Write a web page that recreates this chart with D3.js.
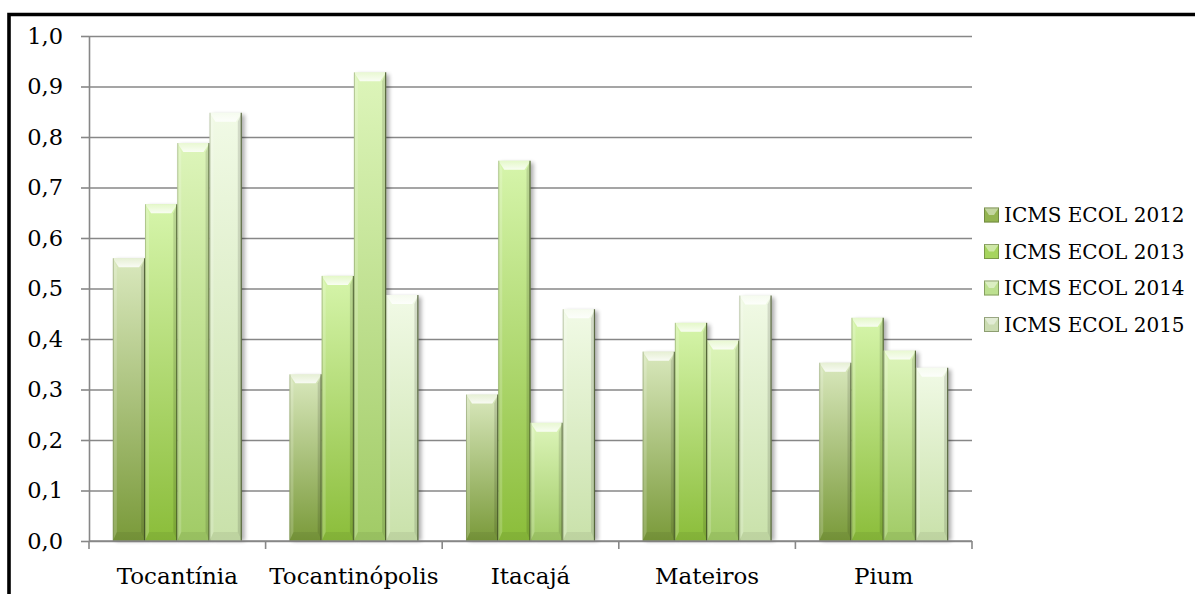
<!DOCTYPE html>
<html>
<head>
<meta charset="utf-8">
<script src="https://cdn.jsdelivr.net/npm/d3@7"></script>
<style>
  html, body { margin: 0; padding: 0; background: #fff; }
  svg { display: block; }
  text { font-family: "DejaVu Serif", serif; fill: #000; }
</style>
</head>
<body>
<svg id="chart" width="1195" height="594"></svg>
<script>
// Municipalities on the x axis
const categories = ["Tocantínia", "Tocantinópolis", "Itacajá", "Mateiros", "Pium"];
// One series per year
const seriesNames = ["ICMS ECOL 2012", "ICMS ECOL 2013", "ICMS ECOL 2014", "ICMS ECOL 2015"];
const values2012 = [0.56, 0.33, 0.29, 0.375, 0.353];
const values2013 = [0.667, 0.525, 0.753, 0.432, 0.442];
const values2014 = [0.788, 0.928, 0.234, 0.397, 0.377];
const values2015 = [0.848, 0.487, 0.459, 0.486, 0.343];
const yTicks = [0, 0.1, 0.2, 0.3, 0.4, 0.5, 0.6, 0.7, 0.8, 0.9, 1.0];

const seriesValues = [values2012, values2013, values2014, values2015];
// gradient stops per series: bottom (dark) -> top (light)
const seriesColors = [
  { bottom: "#7a9a3a", top: "#d9e8bd", legend: "#93b450" },
  { bottom: "#8bbd3a", top: "#d6f5ab", legend: "#a6d45e" },
  { bottom: "#a1cb66", top: "#ddf5ba", legend: "#bde090" },
  { bottom: "#c9e1aa", top: "#f1fae6", legend: "#cbdcb2" }
];

const svg = d3.select("#chart");
const defs = svg.append("defs");

const plot = { left: 89, right: 972, top: 36, bottom: 541 };

const x0 = d3.scaleBand()
  .domain(categories)
  .range([plot.left, plot.right])
  .paddingInner(0.27)
  .paddingOuter(0.135);

const x1 = d3.scaleBand()
  .domain(d3.range(seriesNames.length))
  .range([0, x0.bandwidth()])
  .padding(0);

const y = d3.scaleLinear().domain([0, 1]).range([plot.bottom, plot.top]);

const fmt = v => d3.format(".1f")(v).replace(".", ",");

// gradients
seriesColors.forEach((c, i) => {
  const g = defs.append("linearGradient")
    .attr("id", "grad" + i)
    .attr("x1", 0).attr("y1", 1).attr("x2", 0).attr("y2", 0);
  g.append("stop").attr("offset", "0%").attr("stop-color", c.bottom);
  g.append("stop").attr("offset", "100%").attr("stop-color", c.top);
});

// highlight on the top facet of each bar
const topGlow = defs.append("linearGradient")
  .attr("id", "topGlow").attr("x1", 0).attr("y1", 0).attr("x2", 0).attr("y2", 1);
topGlow.append("stop").attr("offset", "0%").attr("stop-color", "#fff").attr("stop-opacity", 0.35);
topGlow.append("stop").attr("offset", "100%").attr("stop-color", "#fff").attr("stop-opacity", 0.85);

const shadow = defs.append("filter").attr("id", "soft")
  .attr("x", "-50%").attr("y", "-10%").attr("width", "200%").attr("height", "120%");
shadow.append("feGaussianBlur").attr("stdDeviation", 2);

// gridlines
svg.append("g")
  .attr("transform", `translate(${plot.left},0)`)
  .call(d3.axisLeft(y).tickValues(yTicks).tickSize(-(plot.right - plot.left)).tickFormat(""))
  .call(g => g.select(".domain").remove())
  .call(g => g.selectAll("line").attr("stroke", "#878787").attr("stroke-width", 1.6));

// y axis with labels
svg.append("g")
  .attr("transform", `translate(${plot.left},0)`)
  .call(d3.axisLeft(y).tickValues(yTicks).tickSize(8).tickSizeOuter(0).tickPadding(18).tickFormat(fmt))
  .call(g => g.select(".domain").attr("stroke", "#878787").attr("stroke-width", 1.6))
  .call(g => g.selectAll("line").attr("stroke", "#878787").attr("stroke-width", 1.6))
  .call(g => g.selectAll("text")
    .style("font-family", "DejaVu Serif").style("font-size", "22.5px").attr("fill", "#000"));

// bars
const bevelV = 9, bevelH = 4;
const groups = svg.append("g").selectAll("g")
  .data(categories)
  .join("g")
  .attr("transform", d => `translate(${x0(d)},0)`);

const bars = groups.selectAll("g.bar")
  .data((cat, ci) => seriesValues.map((vals, si) => ({ si, v: vals[ci] })))
  .join("g").attr("class", "bar");

bars.each(function (d) {
  const g = d3.select(this);
  const bx = x1(d.si), bw = x1.bandwidth();
  const top = y(d.v), bot = y(0), h = bot - top;
  // soft shadow to the right
  g.append("rect")
    .attr("x", bx + 3).attr("y", top + 2).attr("width", bw).attr("height", h - 2)
    .attr("fill", "#000").attr("opacity", 0.32).attr("filter", "url(#soft)");
  g.append("rect")
    .attr("x", bx).attr("y", top).attr("width", bw).attr("height", h)
    .attr("fill", `url(#grad${d.si})`);
  // top bevel
  g.append("polygon")
    .attr("points", [[bx, top], [bx + bw, top], [bx + bw - bevelH - 2, top + bevelV], [bx + bevelH + 2, top + bevelV]].join(" "))
    .attr("fill", "url(#topGlow)");
  // bottom bevel
  g.append("polygon")
    .attr("points", [[bx, bot], [bx + bw, bot], [bx + bw - bevelH, bot - bevelV], [bx + bevelH, bot - bevelV]].join(" "))
    .attr("fill", "#000").attr("opacity", 0.06);
  // left bevel
  g.append("polygon")
    .attr("points", [[bx, top], [bx + bevelH, top + bevelV], [bx + bevelH, bot - bevelV], [bx, bot]].join(" "))
    .attr("fill", "#fff").attr("opacity", 0.18);
  // right bevel
  g.append("polygon")
    .attr("points", [[bx + bw, top], [bx + bw - bevelH, top + bevelV], [bx + bw - bevelH, bot - bevelV], [bx + bw, bot]].join(" "))
    .attr("fill", "#000").attr("opacity", 0.12);
  g.append("line")
    .attr("x1", bx + bw - 0.5).attr("x2", bx + bw - 0.5).attr("y1", top).attr("y2", bot)
    .attr("stroke", "#3f4f24").attr("stroke-width", 1.2).attr("opacity", 0.8);
  g.append("line")
    .attr("x1", bx + 0.5).attr("x2", bx + 0.5).attr("y1", top).attr("y2", bot)
    .attr("stroke", "#5b6d3a").attr("stroke-width", 1).attr("opacity", 0.35);
});

// x axis: baseline and category separators
const xAxis = svg.append("g");
xAxis.append("line")
  .attr("x1", plot.left).attr("x2", plot.right).attr("y1", y(0)).attr("y2", y(0))
  .attr("stroke", "#878787").attr("stroke-width", 1.6);
const step = x0.step();
const boundaries = categories.map(c => x0(c) - step * x0.paddingInner() / 2).concat([plot.right]);
xAxis.selectAll("line.sep")
  .data(boundaries)
  .join("line").attr("class", "sep")
  .attr("x1", d => d).attr("x2", d => d)
  .attr("y1", y(0)).attr("y2", y(0) + 8)
  .attr("stroke", "#878787").attr("stroke-width", 1.6);
xAxis.selectAll("text")
  .data(categories)
  .join("text")
  .attr("x", d => x0(d) + x0.bandwidth() / 2)
  .attr("y", 584)
  .attr("text-anchor", "middle")
  .style("font-size", "23px")
  .text(d => d);

// legend
const legend = svg.append("g");
const legendRows = legend.selectAll("g")
  .data(seriesNames)
  .join("g")
  .attr("transform", (d, i) => `translate(984,${215 + i * 36.5})`);
legendRows.append("rect")
  .attr("x", 0).attr("y", -7.5).attr("width", 15).attr("height", 15)
  .attr("fill", (d, i) => seriesColors[i].legend);
legendRows.append("polygon")
  .attr("points", "0,-7.5 15,-7.5 10,0 5,0")
  .attr("fill", "#fff").attr("opacity", 0.45);
legendRows.append("rect")
  .attr("x", 0.5).attr("y", -7).attr("width", 14).attr("height", 14)
  .attr("fill", "none").attr("stroke", "#4f6030").attr("stroke-width", 1).attr("opacity", 0.5);
legendRows.append("text")
  .attr("x", 20).attr("y", 0).attr("dy", "0.36em")
  .style("font-size", "20px")
  .text(d => d);

// frame around the chart area
svg.append("path")
  .attr("d", "M9,600 L9,14.5 L1200,14.5")
  .attr("fill", "none").attr("stroke", "#000").attr("stroke-width", 3.6);
</script>
</body>
</html>
